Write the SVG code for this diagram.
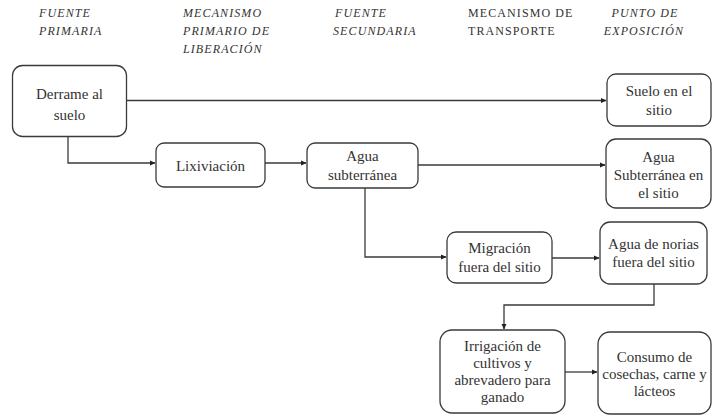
<svg xmlns="http://www.w3.org/2000/svg" width="712" height="416" viewBox="0 0 712 416">
<defs>
<marker id="ah" markerWidth="6" markerHeight="6" refX="5" refY="3" orient="auto" markerUnits="userSpaceOnUse">
<path d="M0,0.5 L5.5,3 L0,5.5 Z" fill="#222"/>
</marker>
<style>
.box{fill:#fff;stroke:#3a3a3a;stroke-width:1.3}
.t{font-family:'Liberation Serif','DejaVu Serif',serif;font-size:15px;fill:#333;text-anchor:middle}
.h{font-family:'Liberation Serif','DejaVu Serif',serif;font-size:12px;fill:#333;letter-spacing:1.1px}
.hi{font-style:italic}
.c{fill:none;stroke:#3a3a3a;stroke-width:1.3}
</style>
</defs>
<rect width="712" height="416" fill="#fff"/>
<g id="headers">
<text class="h hi" x="39" y="17">FUENTE</text>
<text class="h hi" x="39" y="35">PRIMARIA</text>
<text class="h hi" x="183" y="17">MECANISMO</text>
<text class="h hi" x="183" y="35">PRIMARIO DE</text>
<text class="h hi" x="183" y="53">LIBERACIÓN</text>
<text class="h hi" x="335" y="17">FUENTE</text>
<text class="h hi" x="333" y="35">SECUNDARIA</text>
<text class="h" x="468" y="17">MECANISMO DE</text>
<text class="h" x="468" y="35">TRANSPORTE</text>
<text class="h hi" x="645" y="17" text-anchor="middle">PUNTO DE</text>
<text class="h hi" x="644" y="35" text-anchor="middle">EXPOSICIÓN</text>
</g>
<g id="connectors">
<path class="c" d="M127,100.5 H606" marker-end="url(#ah)"/>
<path class="c" d="M68,136 V163 H155" marker-end="url(#ah)"/>
<path class="c" d="M265,163 H306" marker-end="url(#ah)"/>
<path class="c" d="M418,165 H605" marker-end="url(#ah)"/>
<path class="c" d="M365,188 V257 H446" marker-end="url(#ah)"/>
<path class="c" d="M552,258 H599" marker-end="url(#ah)"/>
<path class="c" d="M654,284 V305 H504 V329" marker-end="url(#ah)"/>
<path class="c" d="M565,372 H597" marker-end="url(#ah)"/>
</g>
<g id="derrame">
<rect class="box" x="12.5" y="65.5" width="114" height="71" rx="10"/>
<text class="t" x="69.5" y="99">Derrame al</text>
<text class="t" x="69.5" y="120">suelo</text>
</g>
<g id="suelo">
<rect class="box" x="607" y="74" width="104" height="52" rx="9"/>
<text class="t" x="659" y="96">Suelo en el</text>
<text class="t" x="659" y="115">sitio</text>
</g>
<g id="lixiviacion">
<rect class="box" x="156" y="143" width="109" height="44" rx="8"/>
<text class="t" x="210.5" y="171">Lixiviación</text>
</g>
<g id="agua-sub">
<rect class="box" x="307" y="143" width="111" height="45" rx="8"/>
<text class="t" x="362.5" y="161">Agua</text>
<text class="t" x="362.5" y="180">subterránea</text>
</g>
<g id="agua-sub-sitio">
<rect class="box" x="606" y="139" width="105" height="69" rx="10"/>
<text class="t" x="658.5" y="162">Agua</text>
<text class="t" x="658.5" y="180">Subterránea en</text>
<text class="t" x="658.5" y="198">el sitio</text>
</g>
<g id="migracion">
<rect class="box" x="447" y="232" width="105" height="51" rx="9"/>
<text class="t" x="499.5" y="253">Migración</text>
<text class="t" x="499.5" y="272">fuera del sitio</text>
</g>
<g id="norias">
<rect class="box" x="600" y="222" width="107" height="62" rx="10"/>
<text class="t" x="653.5" y="249">Agua de norias</text>
<text class="t" x="653.5" y="267">fuera del sitio</text>
</g>
<g id="irrigacion">
<rect class="box" x="440" y="330" width="125" height="83" rx="12"/>
<text class="t" x="502.5" y="351">Irrigación de</text>
<text class="t" x="502.5" y="368">cultivos y</text>
<text class="t" x="502.5" y="385">abrevadero para</text>
<text class="t" x="502.5" y="402">ganado</text>
</g>
<g id="consumo">
<rect class="box" x="598" y="332" width="113" height="82" rx="12"/>
<text class="t" x="654.5" y="362">Consumo de</text>
<text class="t" x="654.5" y="379">cosechas, carne y</text>
<text class="t" x="654.5" y="396">lácteos</text>
</g>
</svg>
